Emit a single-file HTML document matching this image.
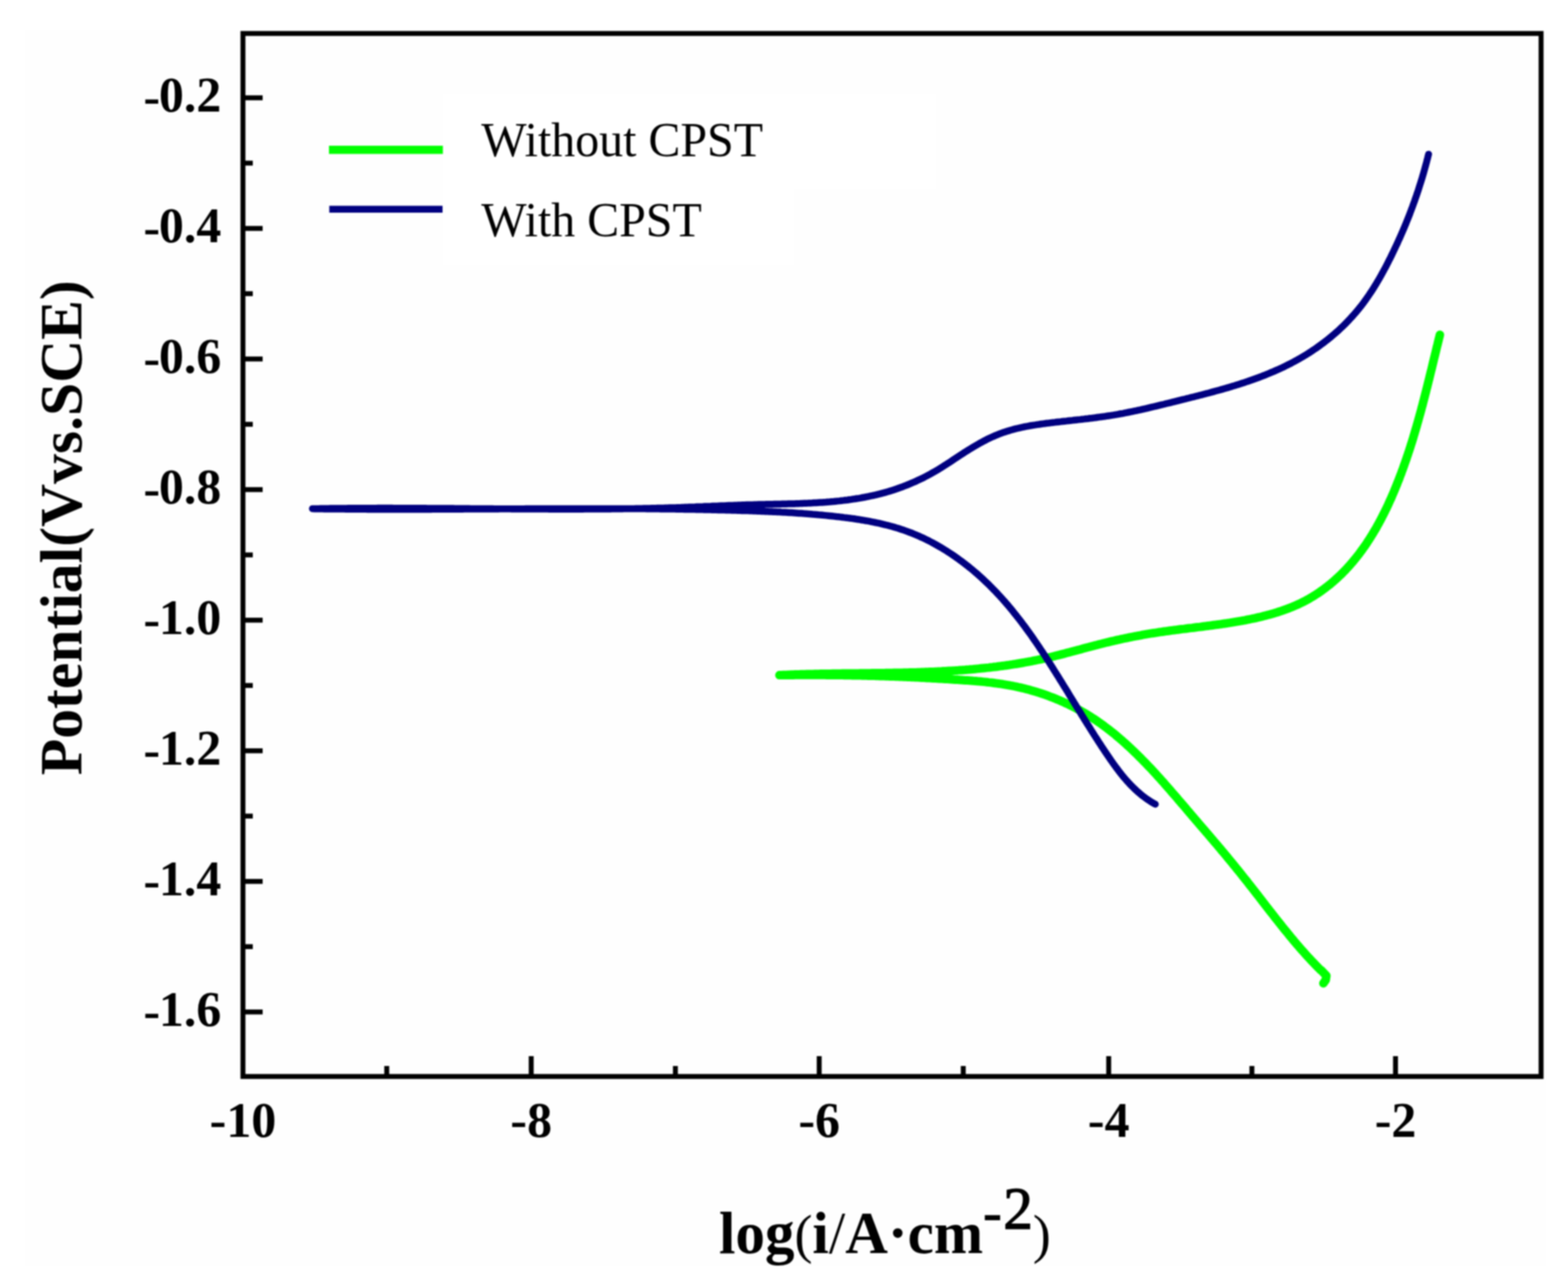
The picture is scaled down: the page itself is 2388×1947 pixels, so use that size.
<!DOCTYPE html>
<html><head><meta charset="utf-8"><style>
html,body{margin:0;padding:0;background:#fff;}
body{width:2388px;height:1947px;overflow:hidden;}
svg{display:block;filter:blur(0.9px);}
.b{font-family:"Liberation Serif","Times New Roman",serif;font-weight:bold;}
.r{font-family:"Liberation Serif","Times New Roman",serif;font-weight:normal;}
</style></head><body>
<svg width="2388" height="1947" viewBox="0 0 2388 1947">
<rect x="0" y="0" width="2388" height="1947" fill="#ffffff"/>
<rect x="38" y="46" width="2317" height="1883" fill="#fefefe"/>
<path d="M674,143 H1425 V288 H1209 V403 H674 Z" fill="#ffffff"/>
<g fill="none" stroke-linecap="round" stroke-linejoin="round">
<path d="M2015.5,1498.0 L2019.0,1493.0 L2020.0,1486.5 L2012.0,1478.0 L2011.5,1478.1 L2009.4,1476.0 L2007.3,1473.9 L2005.3,1471.8 L2003.2,1469.7 L2001.2,1467.6 L1999.2,1465.5 L1997.1,1463.3 L1995.1,1461.1 L1993.1,1459.0 L1991.1,1456.8 L1989.1,1454.6 L1987.1,1452.4 L1985.1,1450.1 L1983.1,1447.9 L1981.2,1445.7 L1979.2,1443.4 L1977.2,1441.1 L1975.3,1438.9 L1973.3,1436.6 L1971.4,1434.3 L1969.5,1432.0 L1967.5,1429.6 L1965.6,1427.3 L1963.7,1425.0 L1961.8,1422.7 L1959.9,1420.3 L1958.0,1418.0 L1956.0,1415.6 L1954.1,1413.2 L1952.2,1410.9 L1950.4,1408.5 L1948.5,1406.1 L1946.6,1403.7 L1944.7,1401.4 L1942.8,1399.0 L1940.9,1396.6 L1939.1,1394.2 L1937.2,1391.8 L1935.3,1389.4 L1933.4,1387.0 L1931.6,1384.6 L1929.7,1382.2 L1927.8,1379.8 L1926.0,1377.4 L1924.1,1375.0 L1922.2,1372.5 L1920.4,1370.1 L1918.5,1367.7 L1916.7,1365.3 L1914.8,1362.9 L1912.9,1360.5 L1911.1,1358.1 L1909.2,1355.7 L1907.3,1353.3 L1905.5,1351.0 L1903.6,1348.6 L1901.7,1346.2 L1899.9,1343.8 L1898.0,1341.4 L1896.1,1339.1 L1894.2,1336.7 L1892.4,1334.4 L1890.5,1332.0 L1888.6,1329.7 L1886.7,1327.3 L1884.8,1325.0 L1882.9,1322.7 L1881.0,1320.3 L1879.1,1318.0 L1877.3,1315.7 L1875.4,1313.4 L1873.5,1311.1 L1871.6,1308.8 L1869.7,1306.5 L1867.8,1304.2 L1865.9,1301.9 L1864.0,1299.6 L1862.0,1297.3 L1860.1,1295.0 L1858.2,1292.7 L1856.3,1290.5 L1854.4,1288.2 L1852.5,1285.9 L1850.6,1283.7 L1848.6,1281.4 L1846.7,1279.1 L1844.8,1276.9 L1842.9,1274.6 L1841.0,1272.4 L1839.0,1270.1 L1837.1,1267.9 L1835.2,1265.6 L1833.2,1263.4 L1831.3,1261.1 L1829.4,1258.9 L1827.5,1256.7 L1825.5,1254.4 L1823.6,1252.1 L1821.6,1249.9 L1819.7,1247.6 L1817.8,1245.3 L1815.8,1243.1 L1813.9,1240.8 L1811.9,1238.5 L1810.0,1236.2 L1808.0,1233.9 L1806.1,1231.6 L1804.1,1229.3 L1802.2,1227.1 L1800.2,1224.8 L1798.3,1222.5 L1796.3,1220.2 L1794.3,1217.9 L1792.4,1215.6 L1790.4,1213.3 L1788.4,1211.0 L1786.4,1208.7 L1784.4,1206.4 L1782.4,1204.1 L1780.4,1201.8 L1778.4,1199.5 L1776.4,1197.2 L1774.4,1194.9 L1772.4,1192.6 L1770.4,1190.4 L1768.3,1188.1 L1766.3,1185.8 L1764.3,1183.6 L1762.2,1181.3 L1760.2,1179.0 L1758.1,1176.8 L1756.0,1174.6 L1754.0,1172.3 L1751.9,1170.1 L1749.8,1167.9 L1747.7,1165.7 L1745.6,1163.5 L1743.5,1161.3 L1741.3,1159.1 L1739.2,1157.0 L1737.1,1154.8 L1734.9,1152.7 L1732.8,1150.5 L1730.6,1148.4 L1728.4,1146.3 L1726.3,1144.2 L1724.1,1142.1 L1721.9,1140.0 L1719.7,1138.0 L1717.4,1135.9 L1715.2,1133.9 L1713.0,1131.8 L1710.7,1129.8 L1708.5,1127.8 L1706.2,1125.9 L1703.9,1123.9 L1701.6,1122.0 L1699.3,1120.0 L1697.0,1118.1 L1694.7,1116.2 L1692.3,1114.4 L1690.0,1112.5 L1687.6,1110.7 L1685.2,1108.9 L1682.8,1107.1 L1680.4,1105.3 L1678.0,1103.5 L1675.6,1101.8 L1673.1,1100.1 L1670.7,1098.4 L1668.2,1096.7 L1665.7,1095.0 L1663.2,1093.4 L1660.7,1091.8 L1658.2,1090.2 L1655.6,1088.6 L1653.1,1087.1 L1650.5,1085.6 L1647.9,1084.1 L1645.3,1082.6 L1642.7,1081.2 L1640.1,1079.8 L1637.5,1078.4 L1634.8,1077.0 L1632.2,1075.6 L1629.5,1074.3 L1626.8,1073.0 L1624.1,1071.7 L1621.4,1070.5 L1618.7,1069.2 L1615.9,1068.0 L1613.2,1066.8 L1610.4,1065.7 L1607.7,1064.5 L1604.9,1063.4 L1602.1,1062.3 L1599.3,1061.3 L1596.5,1060.2 L1593.7,1059.2 L1590.9,1058.2 L1588.1,1057.2 L1585.2,1056.3 L1582.4,1055.4 L1579.5,1054.4 L1576.7,1053.6 L1573.8,1052.7 L1570.9,1051.9 L1568.0,1051.1 L1565.1,1050.3 L1562.2,1049.6 L1559.3,1048.8 L1556.4,1048.1 L1553.5,1047.4 L1550.5,1046.8 L1547.6,1046.1 L1544.7,1045.5 L1541.7,1044.9 L1538.8,1044.4 L1535.8,1043.8 L1532.8,1043.3 L1529.9,1042.8 L1526.9,1042.3 L1523.9,1041.9 L1520.9,1041.5 L1518.0,1041.1 L1515.0,1040.7 L1512.0,1040.3 L1509.0,1039.9 L1506.0,1039.6 L1503.0,1039.2 L1500.0,1038.9 L1497.0,1038.6 L1494.0,1038.3 L1491.0,1038.1 L1487.9,1037.8 L1484.9,1037.5 L1481.9,1037.3 L1478.9,1037.0 L1475.9,1036.8 L1472.9,1036.6 L1469.9,1036.4 L1466.8,1036.2 L1463.8,1036.0 L1460.8,1035.8 L1457.8,1035.6 L1454.8,1035.4 L1451.7,1035.2 L1448.7,1035.0 L1445.7,1034.8 L1442.7,1034.6 L1439.7,1034.4 L1436.7,1034.2 L1433.7,1034.0 L1430.6,1033.9 L1427.6,1033.7 L1424.6,1033.5 L1421.6,1033.4 L1418.6,1033.2 L1415.6,1033.0 L1412.6,1032.9 L1409.5,1032.7 L1406.5,1032.6 L1403.5,1032.4 L1400.5,1032.3 L1397.5,1032.1 L1394.5,1032.0 L1391.5,1031.8 L1388.5,1031.7 L1385.5,1031.6 L1382.5,1031.4 L1379.4,1031.3 L1376.4,1031.2 L1373.4,1031.1 L1370.4,1030.9 L1367.4,1030.8 L1364.4,1030.7 L1361.4,1030.6 L1358.4,1030.5 L1355.4,1030.4 L1352.4,1030.3 L1349.4,1030.2 L1346.4,1030.1 L1343.3,1030.0 L1340.3,1029.9 L1337.3,1029.8 L1334.3,1029.7 L1331.3,1029.6 L1328.3,1029.5 L1325.3,1029.5 L1322.3,1029.4 L1319.3,1029.3 L1316.3,1029.2 L1313.3,1029.2 L1310.3,1029.1 L1307.3,1029.0 L1304.3,1029.0 L1301.3,1028.9 L1298.3,1028.9 L1295.3,1028.8 L1292.3,1028.7 L1289.2,1028.7 L1286.2,1028.7 L1283.2,1028.6 L1280.2,1028.6 L1277.2,1028.5 L1274.2,1028.5 L1271.2,1028.5 L1268.2,1028.4 L1265.2,1028.4 L1262.2,1028.4 L1259.2,1028.4 L1256.2,1028.3 L1253.2,1028.3 L1250.2,1028.3 L1247.2,1028.3 L1244.2,1028.3 L1241.2,1028.3 L1238.2,1028.3 L1235.2,1028.3 L1232.2,1028.3 L1229.2,1028.3 L1226.2,1028.3 L1223.1,1028.3 L1220.1,1028.3 L1217.1,1028.3 L1214.1,1028.3 L1211.1,1028.3 L1208.1,1028.4 L1205.1,1028.4 L1202.1,1028.4 L1199.1,1028.4 L1196.1,1028.5 L1193.1,1028.5 L1190.1,1028.5 L1187.1,1028.6 L1187.0,1028.6 L1190.0,1028.4 L1193.0,1028.3 L1196.0,1028.2 L1199.0,1028.1 L1202.0,1027.9 L1205.0,1027.8 L1208.0,1027.7 L1210.9,1027.6 L1213.9,1027.5 L1216.9,1027.4 L1219.9,1027.3 L1222.9,1027.2 L1225.9,1027.2 L1228.9,1027.1 L1231.9,1027.0 L1234.9,1026.9 L1237.9,1026.9 L1240.9,1026.8 L1244.0,1026.7 L1247.0,1026.7 L1250.0,1026.6 L1253.0,1026.6 L1256.0,1026.5 L1259.0,1026.5 L1262.0,1026.4 L1265.0,1026.4 L1268.0,1026.3 L1271.0,1026.3 L1274.0,1026.2 L1277.1,1026.2 L1280.1,1026.2 L1283.1,1026.1 L1286.1,1026.1 L1289.1,1026.0 L1292.1,1026.0 L1295.1,1026.0 L1298.2,1025.9 L1301.2,1025.9 L1304.2,1025.9 L1307.2,1025.9 L1310.2,1025.8 L1313.2,1025.8 L1316.3,1025.8 L1319.3,1025.7 L1322.3,1025.7 L1325.3,1025.7 L1328.3,1025.6 L1331.3,1025.6 L1334.4,1025.5 L1337.4,1025.5 L1340.4,1025.5 L1343.4,1025.4 L1346.4,1025.4 L1349.4,1025.3 L1352.5,1025.3 L1355.5,1025.2 L1358.5,1025.2 L1361.5,1025.1 L1364.5,1025.1 L1367.6,1025.0 L1370.6,1025.0 L1373.6,1024.9 L1376.6,1024.8 L1379.6,1024.8 L1382.6,1024.7 L1385.6,1024.6 L1388.7,1024.5 L1391.7,1024.4 L1394.7,1024.4 L1397.7,1024.3 L1400.7,1024.2 L1403.7,1024.1 L1406.7,1024.0 L1409.8,1023.8 L1412.8,1023.7 L1415.8,1023.6 L1418.8,1023.5 L1421.8,1023.4 L1424.8,1023.2 L1427.8,1023.1 L1430.8,1022.9 L1433.8,1022.8 L1436.8,1022.6 L1439.8,1022.5 L1442.8,1022.3 L1445.8,1022.1 L1448.8,1021.9 L1451.8,1021.7 L1454.8,1021.6 L1457.8,1021.4 L1460.8,1021.1 L1463.8,1020.9 L1466.8,1020.7 L1469.8,1020.5 L1472.8,1020.2 L1475.8,1020.0 L1478.8,1019.7 L1481.8,1019.5 L1484.8,1019.2 L1487.8,1018.9 L1490.8,1018.6 L1493.7,1018.3 L1496.7,1018.0 L1499.7,1017.7 L1502.7,1017.4 L1505.7,1017.1 L1508.6,1016.7 L1511.6,1016.4 L1514.6,1016.0 L1517.6,1015.7 L1520.5,1015.3 L1523.5,1014.9 L1526.5,1014.5 L1529.5,1014.1 L1532.4,1013.7 L1535.4,1013.3 L1538.4,1012.8 L1541.3,1012.4 L1544.3,1011.9 L1547.2,1011.5 L1550.2,1011.0 L1553.1,1010.5 L1556.1,1010.0 L1559.0,1009.5 L1562.0,1008.9 L1564.9,1008.4 L1567.9,1007.8 L1570.8,1007.3 L1573.8,1006.7 L1576.7,1006.1 L1579.7,1005.5 L1582.6,1004.9 L1585.5,1004.3 L1588.5,1003.7 L1591.4,1003.0 L1594.3,1002.3 L1597.2,1001.7 L1600.2,1001.0 L1603.1,1000.3 L1606.0,999.6 L1608.9,998.8 L1611.8,998.1 L1614.7,997.4 L1617.7,996.6 L1620.6,995.9 L1623.5,995.1 L1626.4,994.3 L1629.3,993.6 L1632.2,992.8 L1635.1,992.0 L1638.0,991.2 L1640.9,990.4 L1643.8,989.7 L1646.7,988.9 L1649.6,988.1 L1652.5,987.3 L1655.5,986.5 L1658.4,985.8 L1661.3,985.0 L1664.2,984.2 L1667.1,983.4 L1670.0,982.7 L1672.9,981.9 L1675.8,981.2 L1678.7,980.5 L1681.6,979.7 L1684.5,979.0 L1687.5,978.3 L1690.4,977.6 L1693.3,976.9 L1696.2,976.3 L1699.1,975.6 L1702.1,974.9 L1705.0,974.3 L1707.9,973.6 L1710.8,973.0 L1713.8,972.4 L1716.7,971.8 L1719.6,971.2 L1722.6,970.6 L1725.5,970.0 L1728.5,969.4 L1731.4,968.9 L1734.4,968.3 L1737.3,967.8 L1740.3,967.2 L1743.3,966.7 L1746.2,966.2 L1749.2,965.7 L1752.2,965.2 L1755.2,964.7 L1758.1,964.3 L1761.1,963.8 L1764.1,963.3 L1767.1,962.9 L1770.1,962.5 L1773.1,962.0 L1776.1,961.6 L1779.1,961.2 L1782.1,960.8 L1785.1,960.4 L1788.2,960.0 L1791.2,959.6 L1794.2,959.2 L1797.2,958.8 L1800.2,958.4 L1803.3,958.1 L1806.3,957.7 L1809.3,957.3 L1812.3,956.9 L1815.4,956.6 L1818.4,956.2 L1821.4,955.8 L1824.4,955.4 L1827.5,955.1 L1830.5,954.7 L1833.5,954.3 L1836.5,953.9 L1839.5,953.5 L1842.6,953.1 L1845.6,952.7 L1848.6,952.3 L1851.6,951.9 L1854.6,951.5 L1857.6,951.1 L1860.6,950.7 L1863.6,950.2 L1866.6,949.8 L1869.6,949.3 L1872.6,948.9 L1875.6,948.4 L1878.6,947.9 L1881.5,947.4 L1884.5,946.9 L1887.5,946.4 L1890.5,945.9 L1893.4,945.3 L1896.4,944.8 L1899.3,944.2 L1902.3,943.6 L1905.2,943.0 L1908.1,942.4 L1911.0,941.8 L1914.0,941.1 L1916.9,940.4 L1919.8,939.8 L1922.7,939.1 L1925.5,938.3 L1928.4,937.6 L1931.3,936.8 L1934.2,936.1 L1937.0,935.2 L1939.9,934.4 L1942.7,933.6 L1945.5,932.7 L1948.3,931.8 L1951.1,930.9 L1953.9,929.9 L1956.7,928.9 L1959.5,927.9 L1962.2,926.9 L1965.0,925.8 L1967.7,924.7 L1970.4,923.6 L1973.1,922.4 L1975.8,921.2 L1978.5,920.0 L1981.1,918.7 L1983.8,917.4 L1986.4,916.1 L1989.0,914.7 L1991.6,913.3 L1994.2,911.8 L1996.7,910.3 L1999.3,908.8 L2001.8,907.2 L2004.3,905.6 L2006.8,904.0 L2009.3,902.3 L2011.7,900.6 L2014.2,898.9 L2016.6,897.1 L2019.0,895.3 L2021.3,893.5 L2023.7,891.6 L2026.0,889.8 L2028.3,887.8 L2030.6,885.9 L2032.9,883.9 L2035.1,881.9 L2037.3,879.9 L2039.5,877.8 L2041.7,875.8 L2043.8,873.7 L2045.9,871.5 L2048.0,869.4 L2050.1,867.2 L2052.1,865.0 L2054.2,862.8 L2056.2,860.5 L2058.1,858.3 L2060.1,856.0 L2062.0,853.7 L2063.9,851.4 L2065.8,849.0 L2067.7,846.7 L2069.5,844.3 L2071.3,841.9 L2073.1,839.4 L2074.9,837.0 L2076.6,834.6 L2078.4,832.1 L2080.1,829.6 L2081.8,827.1 L2083.4,824.6 L2085.1,822.0 L2086.7,819.5 L2088.3,816.9 L2089.9,814.3 L2091.5,811.7 L2093.0,809.1 L2094.6,806.5 L2096.1,803.9 L2097.6,801.2 L2099.1,798.6 L2100.5,795.9 L2102.0,793.2 L2103.4,790.5 L2104.8,787.8 L2106.2,785.1 L2107.5,782.4 L2108.9,779.7 L2110.2,776.9 L2111.6,774.2 L2112.9,771.4 L2114.2,768.7 L2115.4,765.9 L2116.7,763.1 L2118.0,760.4 L2119.2,757.6 L2120.4,754.8 L2121.6,752.0 L2122.8,749.2 L2124.0,746.4 L2125.1,743.6 L2126.3,740.8 L2127.4,738.0 L2128.5,735.1 L2129.7,732.3 L2130.8,729.5 L2131.8,726.7 L2132.9,723.9 L2134.0,721.1 L2135.0,718.2 L2136.1,715.4 L2137.1,712.6 L2138.1,709.8 L2139.1,706.9 L2140.1,704.1 L2141.1,701.3 L2142.1,698.4 L2143.0,695.6 L2144.0,692.8 L2144.9,689.9 L2145.9,687.1 L2146.8,684.2 L2147.7,681.4 L2148.6,678.6 L2149.5,675.7 L2150.4,672.9 L2151.3,670.0 L2152.2,667.2 L2153.0,664.3 L2153.9,661.4 L2154.7,658.6 L2155.6,655.7 L2156.4,652.9 L2157.3,650.0 L2158.1,647.1 L2158.9,644.3 L2159.7,641.4 L2160.5,638.5 L2161.3,635.7 L2162.1,632.8 L2162.9,629.9 L2163.7,627.0 L2164.5,624.2 L2165.2,621.3 L2166.0,618.4 L2166.8,615.5 L2167.5,612.6 L2168.3,609.7 L2169.0,606.8 L2169.8,603.9 L2170.5,601.0 L2171.3,598.1 L2172.0,595.2 L2172.7,592.3 L2173.5,589.4 L2174.2,586.5 L2174.9,583.6 L2175.6,580.7 L2176.4,577.8 L2177.1,574.8 L2177.8,571.9 L2178.5,569.0 L2179.2,566.1 L2180.0,563.1 L2180.7,560.2 L2181.4,557.3 L2182.1,554.3 L2182.8,551.4 L2183.5,548.5 L2184.2,545.5 L2185.0,542.6 L2185.7,539.6 L2186.4,536.7 L2187.1,533.7 L2187.8,530.8 L2188.5,527.8 L2189.3,524.8 L2190.0,521.9 L2190.7,518.9 L2191.4,515.9 L2192.2,513.0 L2192.9,510.0" stroke="#00ff00" stroke-width="13"/>
<path d="M1759.5,1225.2 L1756.9,1223.8 L1754.3,1222.2 L1751.8,1220.7 L1749.3,1219.0 L1746.8,1217.4 L1744.4,1215.6 L1742.1,1213.9 L1739.7,1212.1 L1737.4,1210.2 L1735.2,1208.3 L1732.9,1206.4 L1730.7,1204.4 L1728.6,1202.4 L1726.5,1200.4 L1724.4,1198.3 L1722.3,1196.2 L1720.2,1194.0 L1718.2,1191.8 L1716.2,1189.6 L1714.3,1187.4 L1712.3,1185.1 L1710.4,1182.8 L1708.5,1180.5 L1706.7,1178.2 L1704.8,1175.8 L1703.0,1173.4 L1701.2,1171.0 L1699.4,1168.6 L1697.6,1166.2 L1695.8,1163.7 L1694.1,1161.3 L1692.3,1158.8 L1690.6,1156.3 L1688.9,1153.8 L1687.2,1151.3 L1685.5,1148.8 L1683.8,1146.3 L1682.1,1143.8 L1680.5,1141.2 L1678.8,1138.7 L1677.1,1136.2 L1675.5,1133.7 L1673.8,1131.1 L1672.2,1128.6 L1670.6,1126.0 L1668.9,1123.5 L1667.3,1121.0 L1665.7,1118.4 L1664.1,1115.9 L1662.4,1113.3 L1660.8,1110.7 L1659.2,1108.2 L1657.6,1105.6 L1656.0,1103.1 L1654.4,1100.5 L1652.8,1097.9 L1651.2,1095.4 L1649.6,1092.8 L1648.0,1090.2 L1646.5,1087.7 L1644.9,1085.1 L1643.3,1082.5 L1641.7,1080.0 L1640.1,1077.4 L1638.6,1074.8 L1637.0,1072.3 L1635.4,1069.7 L1633.8,1067.1 L1632.3,1064.5 L1630.7,1062.0 L1629.1,1059.4 L1627.5,1056.8 L1626.0,1054.2 L1624.4,1051.7 L1622.8,1049.1 L1621.2,1046.5 L1619.6,1044.0 L1618.1,1041.4 L1616.5,1038.8 L1614.9,1036.3 L1613.3,1033.7 L1611.7,1031.1 L1610.1,1028.6 L1608.5,1026.0 L1606.9,1023.5 L1605.3,1020.9 L1603.7,1018.4 L1602.1,1015.8 L1600.5,1013.3 L1598.9,1010.7 L1597.3,1008.2 L1595.7,1005.7 L1594.0,1003.2 L1592.4,1000.6 L1590.8,998.1 L1589.1,995.6 L1587.5,993.1 L1585.8,990.6 L1584.1,988.1 L1582.5,985.6 L1580.8,983.1 L1579.1,980.6 L1577.4,978.1 L1575.7,975.7 L1574.0,973.2 L1572.3,970.7 L1570.6,968.3 L1568.8,965.8 L1567.1,963.4 L1565.3,961.0 L1563.6,958.6 L1561.8,956.1 L1560.0,953.7 L1558.2,951.3 L1556.4,948.9 L1554.6,946.6 L1552.8,944.2 L1551.0,941.8 L1549.1,939.5 L1547.3,937.1 L1545.4,934.8 L1543.5,932.4 L1541.7,930.1 L1539.8,927.8 L1537.8,925.5 L1535.9,923.2 L1534.0,920.9 L1532.0,918.7 L1530.1,916.4 L1528.1,914.2 L1526.1,911.9 L1524.1,909.7 L1522.1,907.5 L1520.0,905.3 L1518.0,903.1 L1515.9,900.9 L1513.8,898.8 L1511.7,896.6 L1509.6,894.5 L1507.5,892.4 L1505.4,890.2 L1503.2,888.1 L1501.0,886.1 L1498.8,884.0 L1496.6,881.9 L1494.4,879.9 L1492.2,877.9 L1489.9,875.8 L1487.6,873.8 L1485.3,871.9 L1483.0,869.9 L1480.7,867.9 L1478.3,866.0 L1476.0,864.1 L1473.6,862.2 L1471.2,860.3 L1468.8,858.4 L1466.3,856.6 L1463.9,854.7 L1461.4,852.9 L1459.0,851.1 L1456.5,849.4 L1454.0,847.6 L1451.5,845.9 L1448.9,844.2 L1446.4,842.5 L1443.8,840.8 L1441.3,839.2 L1438.7,837.6 L1436.1,836.0 L1433.5,834.4 L1430.8,832.9 L1428.2,831.4 L1425.6,829.9 L1422.9,828.4 L1420.2,826.9 L1417.6,825.5 L1414.9,824.1 L1412.2,822.8 L1409.4,821.4 L1406.7,820.1 L1404.0,818.8 L1401.2,817.6 L1398.5,816.3 L1395.7,815.2 L1392.9,814.0 L1390.2,812.9 L1387.4,811.7 L1384.6,810.7 L1381.7,809.6 L1378.9,808.6 L1376.1,807.6 L1373.3,806.7 L1370.4,805.7 L1367.6,804.8 L1364.7,804.0 L1361.8,803.1 L1359.0,802.3 L1356.1,801.5 L1353.2,800.7 L1350.3,800.0 L1347.4,799.3 L1344.5,798.6 L1341.6,797.9 L1338.7,797.2 L1335.8,796.6 L1332.8,796.0 L1329.9,795.4 L1327.0,794.8 L1324.0,794.2 L1321.1,793.7 L1318.1,793.2 L1315.2,792.7 L1312.2,792.2 L1309.3,791.7 L1306.3,791.2 L1303.4,790.8 L1300.4,790.3 L1297.4,789.9 L1294.4,789.5 L1291.5,789.1 L1288.5,788.7 L1285.5,788.4 L1282.5,788.0 L1279.6,787.6 L1276.6,787.3 L1273.6,787.0 L1270.6,786.6 L1267.6,786.3 L1264.6,786.0 L1261.7,785.7 L1258.7,785.4 L1255.7,785.1 L1252.7,784.8 L1249.7,784.5 L1246.7,784.3 L1243.8,784.0 L1240.8,783.7 L1237.8,783.5 L1234.8,783.2 L1231.8,783.0 L1228.8,782.8 L1225.8,782.6 L1222.8,782.3 L1219.8,782.1 L1216.8,781.9 L1213.8,781.7 L1210.9,781.5 L1207.9,781.3 L1204.9,781.1 L1201.9,781.0 L1198.9,780.8 L1195.9,780.6 L1192.9,780.4 L1189.9,780.3 L1186.9,780.1 L1183.9,780.0 L1180.9,779.8 L1177.9,779.7 L1174.9,779.5 L1171.9,779.4 L1168.9,779.3 L1165.9,779.2 L1162.9,779.0 L1159.9,778.9 L1156.9,778.8 L1153.9,778.7 L1150.9,778.6 L1147.9,778.5 L1144.9,778.3 L1141.9,778.2 L1138.9,778.1 L1135.9,778.0 L1132.9,777.9 L1129.9,777.9 L1126.8,777.8 L1123.8,777.7 L1120.8,777.6 L1117.8,777.5 L1114.8,777.4 L1111.8,777.3 L1108.8,777.2 L1105.8,777.2 L1102.8,777.1 L1099.8,777.0 L1096.8,776.9 L1093.8,776.9 L1090.7,776.8 L1087.7,776.7 L1084.7,776.7 L1081.7,776.6 L1078.7,776.5 L1075.7,776.5 L1072.7,776.4 L1069.7,776.3 L1066.6,776.3 L1063.6,776.2 L1060.6,776.2 L1057.6,776.1 L1054.6,776.1 L1051.6,776.0 L1048.6,776.0 L1045.5,775.9 L1042.5,775.9 L1039.5,775.8 L1036.5,775.8 L1033.5,775.7 L1030.5,775.7 L1027.4,775.6 L1024.4,775.6 L1021.4,775.6 L1018.4,775.5 L1015.4,775.5 L1012.4,775.4 L1009.3,775.4 L1006.3,775.4 L1003.3,775.3 L1000.3,775.3 L997.3,775.3 L994.2,775.3 L991.2,775.2 L988.2,775.2 L985.2,775.2 L982.2,775.1 L979.2,775.1 L976.1,775.1 L973.1,775.1 L970.1,775.1 L967.1,775.0 L964.0,775.0 L961.0,775.0 L958.0,775.0 L955.0,775.0 L952.0,775.0 L948.9,775.0 L945.9,774.9 L942.9,774.9 L939.9,774.9 L936.9,774.9 L933.8,774.9 L930.8,774.9 L927.8,774.9 L924.8,774.9 L921.7,774.9 L918.7,774.9 L915.7,774.9 L912.7,774.9 L909.7,774.9 L906.6,774.9 L903.6,774.9 L900.6,774.9 L897.6,774.9 L894.5,774.9 L891.5,774.9 L888.5,774.9 L885.5,774.9 L882.5,774.9 L879.4,774.9 L876.4,774.9 L873.4,774.9 L870.4,774.9 L867.3,774.9 L864.3,774.9 L861.3,774.9 L858.3,774.9 L855.3,774.9 L852.2,774.9 L849.2,774.9 L846.2,774.9 L843.2,775.0 L840.1,775.0 L837.1,775.0 L834.1,775.0 L831.1,775.0 L828.0,775.0 L825.0,775.0 L822.0,775.0 L819.0,775.1 L816.0,775.1 L812.9,775.1 L809.9,775.1 L806.9,775.1 L803.9,775.1 L800.9,775.1 L797.8,775.2 L794.8,775.2 L791.8,775.2 L788.8,775.2 L785.7,775.2 L782.7,775.2 L779.7,775.2 L776.7,775.3 L773.7,775.3 L770.6,775.3 L767.6,775.3 L764.6,775.3 L761.6,775.3 L758.6,775.4 L755.5,775.4 L752.5,775.4 L749.5,775.4 L746.5,775.4 L743.5,775.4 L740.5,775.5 L737.4,775.5 L734.4,775.5 L731.4,775.5 L728.4,775.5 L725.4,775.5 L722.4,775.6 L719.3,775.6 L716.3,775.6 L713.3,775.6 L710.3,775.6 L707.3,775.6 L704.3,775.7 L701.2,775.7 L698.2,775.7 L695.2,775.7 L692.2,775.7 L689.2,775.7 L686.2,775.7 L683.2,775.7 L680.1,775.8 L677.1,775.8 L674.1,775.8 L671.1,775.8 L668.1,775.8 L665.1,775.8 L662.1,775.8 L659.1,775.8 L656.1,775.9 L653.0,775.9 L650.0,775.9 L647.0,775.9 L644.0,775.9 L641.0,775.9 L638.0,775.9 L635.0,775.9 L632.0,775.9 L629.0,775.9 L626.0,775.9 L623.0,775.9 L620.0,775.9 L616.9,775.9 L613.9,775.9 L610.9,775.9 L607.9,775.9 L604.9,775.9 L601.9,775.9 L598.9,775.9 L595.9,775.9 L592.9,775.9 L589.9,775.9 L586.9,775.9 L583.9,775.9 L580.9,775.9 L577.9,775.9 L574.9,775.9 L571.9,775.9 L568.9,775.9 L565.9,775.9 L562.9,775.9 L559.9,775.9 L556.9,775.8 L553.9,775.8 L550.9,775.8 L547.9,775.8 L544.9,775.8 L541.9,775.8 L539.0,775.7 L536.0,775.7 L533.0,775.7 L530.0,775.7 L527.0,775.7 L524.0,775.6 L521.0,775.6 L518.0,775.6 L515.0,775.6 L512.0,775.5 L509.0,775.5 L506.1,775.5 L503.1,775.5 L500.1,775.4 L497.1,775.4 L494.1,775.4 L491.1,775.3 L488.1,775.3 L485.2,775.2 L482.2,775.2 L479.2,775.2 L476.2,775.1 L475.8,775.0 L478.9,775.0 L481.9,774.9 L485.0,774.9 L488.0,774.8 L491.0,774.8 L494.1,774.8 L497.1,774.7 L500.1,774.7 L503.2,774.6 L506.2,774.6 L509.2,774.6 L512.3,774.5 L515.3,774.5 L518.3,774.5 L521.3,774.4 L524.4,774.4 L527.4,774.4 L530.4,774.3 L533.4,774.3 L536.5,774.3 L539.5,774.3 L542.5,774.3 L545.5,774.2 L548.6,774.2 L551.6,774.2 L554.6,774.2 L557.6,774.2 L560.6,774.2 L563.7,774.2 L566.7,774.2 L569.7,774.2 L572.7,774.2 L575.7,774.1 L578.7,774.1 L581.8,774.1 L584.8,774.1 L587.8,774.1 L590.8,774.1 L593.8,774.1 L596.8,774.1 L599.8,774.2 L602.9,774.2 L605.9,774.2 L608.9,774.2 L611.9,774.2 L614.9,774.2 L617.9,774.2 L620.9,774.2 L623.9,774.2 L626.9,774.2 L629.9,774.2 L632.9,774.3 L635.9,774.3 L639.0,774.3 L642.0,774.3 L645.0,774.3 L648.0,774.3 L651.0,774.4 L654.0,774.4 L657.0,774.4 L660.0,774.4 L663.0,774.4 L666.0,774.5 L669.0,774.5 L672.0,774.5 L675.0,774.5 L678.0,774.5 L681.0,774.6 L684.0,774.6 L687.0,774.6 L690.0,774.6 L693.0,774.7 L696.0,774.7 L699.0,774.7 L702.0,774.7 L705.0,774.8 L708.0,774.8 L711.0,774.8 L714.0,774.8 L717.0,774.9 L720.0,774.9 L722.9,774.9 L725.9,774.9 L728.9,775.0 L731.9,775.0 L734.9,775.0 L737.9,775.0 L740.9,775.1 L743.9,775.1 L746.9,775.1 L749.9,775.1 L752.9,775.2 L755.9,775.2 L758.9,775.2 L761.9,775.2 L764.9,775.2 L767.9,775.3 L770.8,775.3 L773.8,775.3 L776.8,775.3 L779.8,775.4 L782.8,775.4 L785.8,775.4 L788.8,775.4 L791.8,775.4 L794.8,775.5 L797.8,775.5 L800.8,775.5 L803.8,775.5 L806.8,775.5 L809.7,775.5 L812.7,775.6 L815.7,775.6 L818.7,775.6 L821.7,775.6 L824.7,775.6 L827.7,775.6 L830.7,775.6 L833.7,775.6 L836.7,775.7 L839.7,775.7 L842.6,775.7 L845.6,775.7 L848.6,775.7 L851.6,775.7 L854.6,775.7 L857.6,775.7 L860.6,775.7 L863.6,775.7 L866.6,775.7 L869.6,775.7 L872.6,775.7 L875.5,775.7 L878.5,775.7 L881.5,775.7 L884.5,775.7 L887.5,775.7 L890.5,775.6 L893.5,775.6 L896.5,775.6 L899.5,775.6 L902.5,775.6 L905.5,775.6 L908.5,775.5 L911.5,775.5 L914.5,775.5 L917.4,775.5 L920.4,775.5 L923.4,775.4 L926.4,775.4 L929.4,775.4 L932.4,775.3 L935.4,775.3 L938.4,775.3 L941.4,775.2 L944.4,775.2 L947.4,775.2 L950.4,775.1 L953.4,775.1 L956.4,775.0 L959.4,775.0 L962.4,774.9 L965.4,774.9 L968.4,774.8 L971.4,774.8 L974.4,774.7 L977.4,774.7 L980.4,774.6 L983.4,774.5 L986.4,774.5 L989.4,774.4 L992.4,774.3 L995.4,774.3 L998.4,774.2 L1001.4,774.1 L1004.4,774.1 L1007.4,774.0 L1010.4,773.9 L1013.4,773.8 L1016.4,773.7 L1019.4,773.6 L1022.4,773.5 L1025.4,773.5 L1028.4,773.4 L1031.4,773.3 L1034.4,773.2 L1037.4,773.1 L1040.4,772.9 L1043.4,772.8 L1046.5,772.7 L1049.5,772.6 L1052.5,772.5 L1055.5,772.4 L1058.5,772.3 L1061.5,772.1 L1064.5,772.0 L1067.5,771.9 L1070.5,771.8 L1073.6,771.6 L1076.6,771.5 L1079.6,771.4 L1082.6,771.3 L1085.6,771.1 L1088.6,771.0 L1091.6,770.9 L1094.7,770.7 L1097.7,770.6 L1100.7,770.5 L1103.7,770.4 L1106.7,770.2 L1109.8,770.1 L1112.8,770.0 L1115.8,769.9 L1118.8,769.8 L1121.8,769.7 L1124.9,769.5 L1127.9,769.4 L1130.9,769.3 L1133.9,769.2 L1137.0,769.1 L1140.0,769.0 L1143.0,768.9 L1146.1,768.9 L1149.1,768.8 L1152.1,768.7 L1155.1,768.6 L1158.2,768.6 L1161.2,768.5 L1164.2,768.4 L1167.3,768.3 L1170.3,768.3 L1173.3,768.2 L1176.4,768.2 L1179.4,768.1 L1182.4,768.0 L1185.5,768.0 L1188.5,767.9 L1191.5,767.8 L1194.5,767.8 L1197.6,767.7 L1200.6,767.6 L1203.6,767.5 L1206.6,767.4 L1209.7,767.4 L1212.7,767.3 L1215.7,767.2 L1218.7,767.1 L1221.7,766.9 L1224.8,766.8 L1227.8,766.7 L1230.8,766.6 L1233.8,766.4 L1236.8,766.3 L1239.8,766.1 L1242.8,766.0 L1245.8,765.8 L1248.8,765.6 L1251.8,765.4 L1254.8,765.2 L1257.8,765.0 L1260.8,764.7 L1263.8,764.5 L1266.7,764.2 L1269.7,764.0 L1272.7,763.7 L1275.7,763.4 L1278.6,763.1 L1281.6,762.7 L1284.6,762.4 L1287.5,762.0 L1290.5,761.7 L1293.4,761.3 L1296.4,760.9 L1299.3,760.4 L1302.2,760.0 L1305.2,759.5 L1308.1,759.1 L1311.0,758.6 L1313.9,758.0 L1316.9,757.5 L1319.8,756.9 L1322.7,756.3 L1325.6,755.7 L1328.5,755.1 L1331.4,754.5 L1334.2,753.8 L1337.1,753.1 L1340.0,752.4 L1342.9,751.6 L1345.7,750.9 L1348.6,750.1 L1351.4,749.3 L1354.3,748.4 L1357.1,747.6 L1359.9,746.7 L1362.8,745.7 L1365.6,744.8 L1368.4,743.8 L1371.2,742.8 L1374.0,741.8 L1376.8,740.7 L1379.6,739.6 L1382.4,738.5 L1385.1,737.4 L1387.9,736.2 L1390.6,735.0 L1393.4,733.8 L1396.1,732.6 L1398.8,731.3 L1401.6,730.0 L1404.3,728.7 L1407.0,727.4 L1409.6,726.0 L1412.3,724.6 L1415.0,723.2 L1417.6,721.7 L1420.3,720.2 L1422.9,718.7 L1425.5,717.2 L1428.1,715.7 L1430.7,714.1 L1433.3,712.5 L1435.9,710.9 L1438.5,709.2 L1441.0,707.6 L1443.6,705.9 L1446.1,704.3 L1448.7,702.6 L1451.2,700.9 L1453.8,699.2 L1456.3,697.5 L1458.8,695.9 L1461.4,694.2 L1463.9,692.5 L1466.5,690.9 L1469.0,689.2 L1471.5,687.6 L1474.1,686.0 L1476.7,684.4 L1479.2,682.8 L1481.8,681.2 L1484.4,679.7 L1487.0,678.2 L1489.6,676.7 L1492.2,675.2 L1494.8,673.8 L1497.4,672.4 L1500.1,671.0 L1502.7,669.6 L1505.4,668.3 L1508.1,667.0 L1510.8,665.8 L1513.5,664.6 L1516.2,663.4 L1518.9,662.3 L1521.7,661.2 L1524.5,660.1 L1527.2,659.1 L1530.0,658.2 L1532.9,657.2 L1535.7,656.4 L1538.5,655.5 L1541.4,654.7 L1544.3,653.9 L1547.2,653.2 L1550.1,652.5 L1553.0,651.8 L1555.9,651.2 L1558.8,650.5 L1561.8,649.9 L1564.7,649.4 L1567.7,648.8 L1570.7,648.3 L1573.6,647.8 L1576.6,647.4 L1579.6,646.9 L1582.6,646.5 L1585.5,646.0 L1588.5,645.6 L1591.5,645.2 L1594.5,644.8 L1597.5,644.5 L1600.5,644.1 L1603.5,643.7 L1606.5,643.4 L1609.5,643.0 L1612.5,642.7 L1615.4,642.4 L1618.4,642.0 L1621.4,641.7 L1624.4,641.4 L1627.4,641.0 L1630.3,640.7 L1633.3,640.4 L1636.3,640.0 L1639.3,639.7 L1642.2,639.4 L1645.2,639.1 L1648.2,638.7 L1651.1,638.4 L1654.1,638.0 L1657.1,637.7 L1660.0,637.3 L1663.0,637.0 L1665.9,636.6 L1668.9,636.2 L1671.8,635.8 L1674.8,635.4 L1677.8,635.0 L1680.7,634.6 L1683.7,634.2 L1686.6,633.7 L1689.6,633.3 L1692.5,632.8 L1695.5,632.4 L1698.4,631.9 L1701.4,631.4 L1704.3,630.8 L1707.3,630.3 L1710.2,629.8 L1713.2,629.2 L1716.1,628.6 L1719.0,628.0 L1722.0,627.4 L1724.9,626.8 L1727.9,626.2 L1730.8,625.6 L1733.8,624.9 L1736.7,624.3 L1739.6,623.6 L1742.6,623.0 L1745.5,622.3 L1748.5,621.6 L1751.4,620.9 L1754.4,620.2 L1757.3,619.5 L1760.2,618.8 L1763.2,618.1 L1766.1,617.4 L1769.1,616.7 L1772.0,616.0 L1775.0,615.2 L1777.9,614.5 L1780.8,613.8 L1783.8,613.1 L1786.7,612.3 L1789.7,611.6 L1792.6,610.9 L1795.6,610.1 L1798.5,609.4 L1801.5,608.7 L1804.4,608.0 L1807.3,607.2 L1810.3,606.5 L1813.2,605.7 L1816.2,605.0 L1819.1,604.3 L1822.1,603.5 L1825.0,602.8 L1827.9,602.0 L1830.9,601.3 L1833.8,600.5 L1836.7,599.7 L1839.7,599.0 L1842.6,598.2 L1845.5,597.4 L1848.4,596.6 L1851.3,595.8 L1854.3,595.0 L1857.2,594.2 L1860.1,593.4 L1863.0,592.6 L1865.9,591.7 L1868.8,590.9 L1871.7,590.1 L1874.5,589.2 L1877.4,588.3 L1880.3,587.5 L1883.2,586.6 L1886.0,585.7 L1888.9,584.8 L1891.8,583.8 L1894.6,582.9 L1897.5,581.9 L1900.3,581.0 L1903.1,580.0 L1906.0,579.0 L1908.8,578.0 L1911.6,577.0 L1914.4,576.0 L1917.2,575.0 L1920.0,573.9 L1922.8,572.8 L1925.6,571.8 L1928.3,570.7 L1931.1,569.5 L1933.8,568.4 L1936.6,567.2 L1939.3,566.1 L1942.0,564.9 L1944.8,563.7 L1947.5,562.5 L1950.2,561.2 L1952.9,560.0 L1955.6,558.7 L1958.2,557.4 L1960.9,556.1 L1963.5,554.7 L1966.2,553.4 L1968.8,552.0 L1971.4,550.6 L1974.0,549.2 L1976.6,547.7 L1979.2,546.3 L1981.8,544.8 L1984.4,543.3 L1986.9,541.7 L1989.5,540.2 L1992.0,538.6 L1994.5,537.0 L1997.0,535.4 L1999.5,533.7 L2002.0,532.0 L2004.5,530.3 L2006.9,528.6 L2009.3,526.9 L2011.8,525.1 L2014.2,523.3 L2016.6,521.5 L2018.9,519.7 L2021.3,517.9 L2023.6,516.0 L2025.9,514.1 L2028.3,512.2 L2030.5,510.2 L2032.8,508.3 L2035.1,506.3 L2037.3,504.3 L2039.5,502.3 L2041.7,500.2 L2043.9,498.2 L2046.0,496.1 L2048.2,494.0 L2050.3,491.8 L2052.4,489.7 L2054.5,487.5 L2056.5,485.3 L2058.5,483.1 L2060.5,480.9 L2062.5,478.6 L2064.5,476.4 L2066.4,474.1 L2068.4,471.7 L2070.2,469.4 L2072.1,467.1 L2074.0,464.7 L2075.8,462.3 L2077.6,459.9 L2079.4,457.4 L2081.1,455.0 L2082.8,452.5 L2084.6,450.0 L2086.2,447.5 L2087.9,445.0 L2089.6,442.5 L2091.2,439.9 L2092.8,437.4 L2094.4,434.8 L2096.0,432.2 L2097.5,429.6 L2099.1,427.0 L2100.6,424.4 L2102.1,421.7 L2103.6,419.1 L2105.0,416.5 L2106.5,413.8 L2107.9,411.1 L2109.4,408.5 L2110.8,405.8 L2112.2,403.1 L2113.6,400.4 L2114.9,397.7 L2116.3,395.0 L2117.7,392.3 L2119.0,389.6 L2120.3,386.9 L2121.6,384.2 L2122.9,381.5 L2124.2,378.7 L2125.5,376.0 L2126.8,373.3 L2128.1,370.6 L2129.3,367.8 L2130.5,365.1 L2131.8,362.4 L2133.0,359.6 L2134.2,356.9 L2135.4,354.1 L2136.6,351.4 L2137.8,348.6 L2138.9,345.9 L2140.1,343.1 L2141.2,340.4 L2142.3,337.6 L2143.5,334.8 L2144.6,332.0 L2145.7,329.3 L2146.8,326.5 L2147.8,323.7 L2148.9,320.9 L2149.9,318.1 L2151.0,315.3 L2152.0,312.5 L2153.0,309.7 L2154.1,306.9 L2155.0,304.1 L2156.0,301.2 L2157.0,298.4 L2158.0,295.6 L2158.9,292.7 L2159.9,289.9 L2160.8,287.0 L2161.7,284.2 L2162.6,281.3 L2163.5,278.5 L2164.4,275.6 L2165.3,272.7 L2166.2,269.9 L2167.0,267.0 L2167.9,264.1 L2168.7,261.2 L2169.5,258.3 L2170.3,255.4 L2171.1,252.5 L2171.9,249.5 L2172.7,246.6 L2173.4,243.7 L2174.2,240.8 L2174.9,237.8 L2175.7,234.9" stroke="#000080" stroke-width="10.5"/>
</g>
<g stroke="#000" stroke-width="7.5" fill="none">
<rect x="370" y="51" width="1977" height="1589" stroke-linejoin="miter"/>
<line x1="370" y1="149.0" x2="400" y2="149.0"/><line x1="370" y1="248.5" x2="385" y2="248.5"/><line x1="370" y1="348.0" x2="400" y2="348.0"/><line x1="370" y1="447.4" x2="385" y2="447.4"/><line x1="370" y1="546.9" x2="400" y2="546.9"/><line x1="370" y1="646.4" x2="385" y2="646.4"/><line x1="370" y1="745.9" x2="400" y2="745.9"/><line x1="370" y1="845.4" x2="385" y2="845.4"/><line x1="370" y1="944.8" x2="400" y2="944.8"/><line x1="370" y1="1044.3" x2="385" y2="1044.3"/><line x1="370" y1="1143.8" x2="400" y2="1143.8"/><line x1="370" y1="1243.3" x2="385" y2="1243.3"/><line x1="370" y1="1342.8" x2="400" y2="1342.8"/><line x1="370" y1="1442.2" x2="385" y2="1442.2"/><line x1="370" y1="1541.7" x2="400" y2="1541.7"/><line x1="589.0" y1="1640" x2="589.0" y2="1624"/><line x1="809.0" y1="1640" x2="809.0" y2="1609"/><line x1="1028.6" y1="1640" x2="1028.6" y2="1624"/><line x1="1247.6" y1="1640" x2="1247.6" y2="1609"/><line x1="1467.0" y1="1640" x2="1467.0" y2="1624"/><line x1="1688.5" y1="1640" x2="1688.5" y2="1609"/><line x1="1906.6" y1="1640" x2="1906.6" y2="1624"/><line x1="2125.3" y1="1640" x2="2125.3" y2="1609"/>
</g>
<g class="b" font-size="76" fill="#000">
<text x="216.7" y="170.0"><tspan dx="1.8" dy="3">-</tspan><tspan dx="-1.8" dy="-3">0.2</tspan></text><text x="216.7" y="369.0"><tspan dx="1.8" dy="3">-</tspan><tspan dx="-1.8" dy="-3">0.4</tspan></text><text x="216.7" y="567.9"><tspan dx="1.8" dy="3">-</tspan><tspan dx="-1.8" dy="-3">0.6</tspan></text><text x="216.7" y="766.9"><tspan dx="1.8" dy="3">-</tspan><tspan dx="-1.8" dy="-3">0.8</tspan></text><text x="216.7" y="965.8"><tspan dx="1.8" dy="3">-</tspan><tspan dx="-1.8" dy="-3">1.0</tspan></text><text x="216.7" y="1164.8"><tspan dx="1.8" dy="3">-</tspan><tspan dx="-1.8" dy="-3">1.2</tspan></text><text x="216.7" y="1363.8"><tspan dx="1.8" dy="3">-</tspan><tspan dx="-1.8" dy="-3">1.4</tspan></text><text x="216.7" y="1562.7"><tspan dx="1.8" dy="3">-</tspan><tspan dx="-1.8" dy="-3">1.6</tspan></text>
<text x="370.0" y="1731.5" text-anchor="middle">-10</text><text x="809.0" y="1731.5" text-anchor="middle">-8</text><text x="1247.6" y="1731.5" text-anchor="middle">-6</text><text x="1688.5" y="1731.5" text-anchor="middle">-4</text><text x="2125.3" y="1731.5" text-anchor="middle">-2</text>
</g>
<g fill="none" stroke-linecap="butt">
<line x1="501" y1="228.3" x2="674.5" y2="228.3" stroke="#00ff00" stroke-width="12.5"/>
<line x1="501.5" y1="318.8" x2="674" y2="318.8" stroke="#000080" stroke-width="10.5"/>
</g>
<g class="r" font-size="73" fill="#000">
<text x="733" y="238">Without CPST</text>
<text x="733" y="359.5">With CPST</text>
</g>
<text class="b" font-size="90.8" fill="#000" transform="translate(124,1181) rotate(-90)">Potential(Vvs.SCE)</text>
<g fill="#000" font-size="90">
<text class="b" x="1095" y="1908.5">log<tspan font-weight="normal" font-size="82" dy="-1">(</tspan><tspan dy="1">i</tspan><tspan font-weight="normal">/</tspan>A·cm</text>
<text class="b" x="1496.5" y="1877">-</text>
<text class="r" x="1528" y="1872" stroke="#000" stroke-width="1.8">2</text>
<text class="r" x="1573" y="1907.5" font-size="82">)</text>
</g>
</svg>
</body></html>
